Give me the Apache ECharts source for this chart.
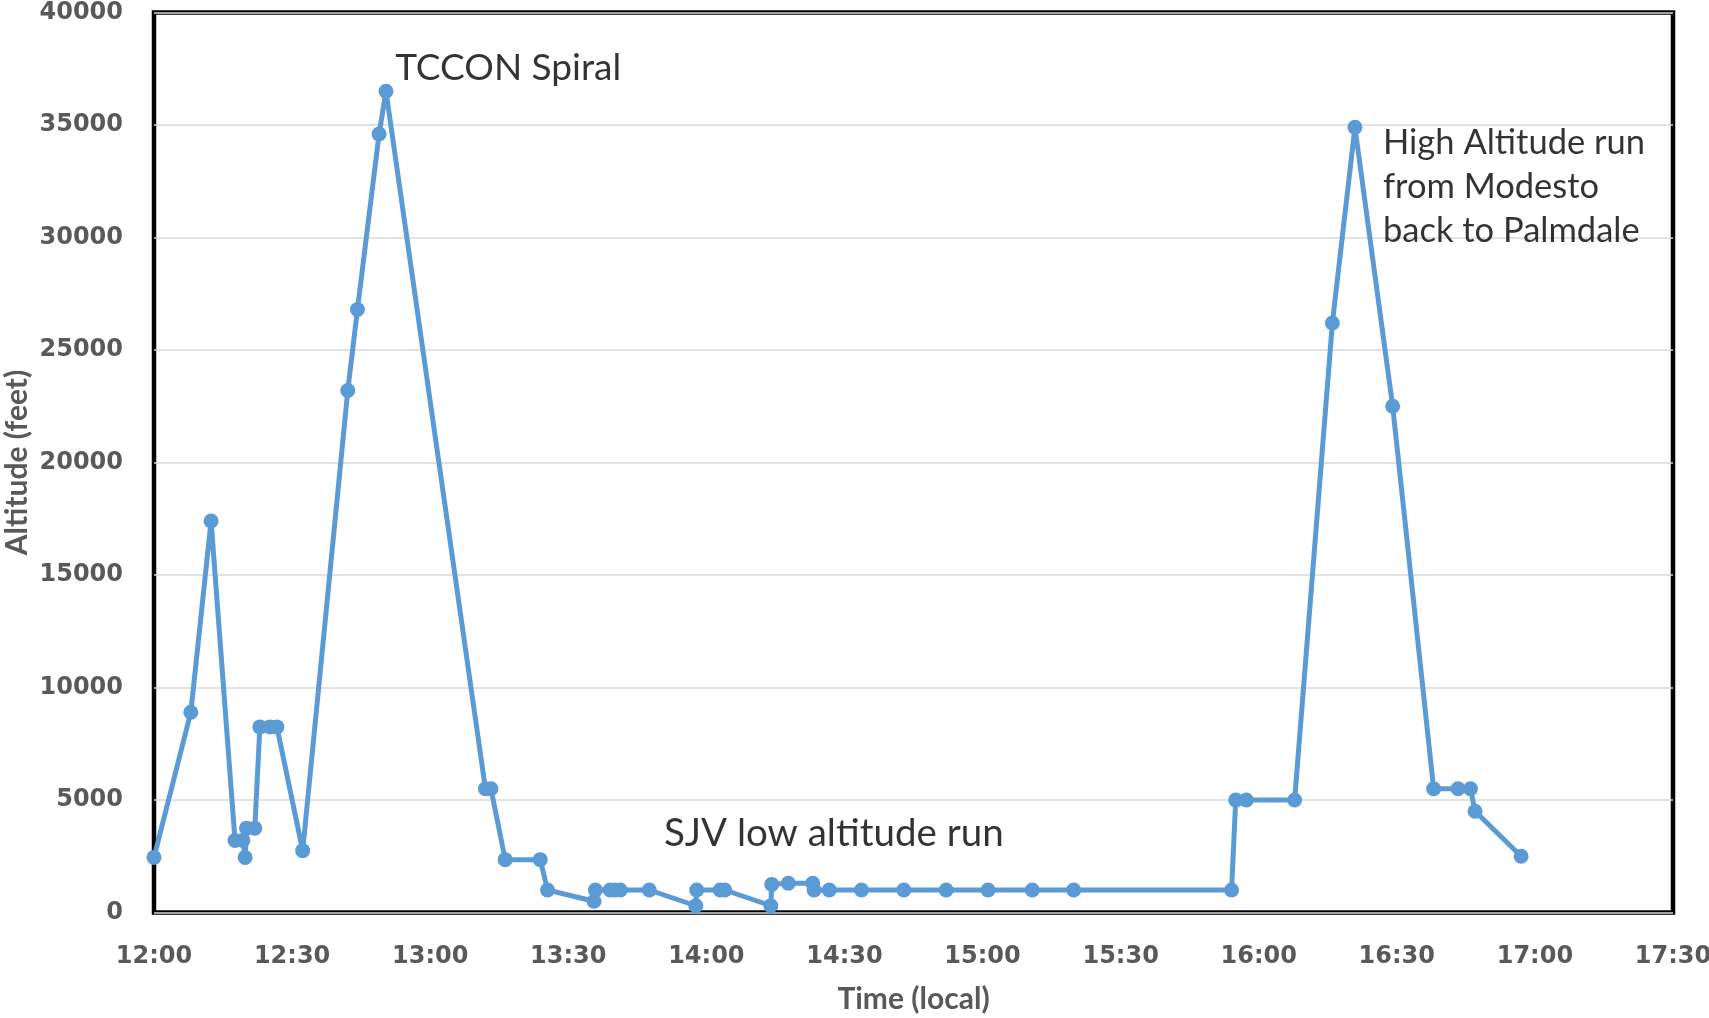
<!DOCTYPE html>
<html>
<head>
<meta charset="utf-8">
<script src="https://cdn.jsdelivr.net/npm/echarts@6/dist/echarts.min.js"></script>
<style>
  html, body { margin: 0; padding: 0; background: #fff; }
  #chart { width: 1709px; height: 1018px; }
</style>
</head>
<body>
<div id="chart"></div>
<script>
// minutes after 12:00 local
const times = [0, 8.0, 12.4, 17.6, 19.3, 19.8, 20.1, 21.9, 23.0, 25.2, 26.7, 32.3,
  42.1, 44.2, 48.9, 50.4, 72.0, 73.2, 76.3, 83.9, 85.5, 95.6, 95.9, 99.1, 100.2, 101.3,
  107.6, 117.7, 117.9, 123.0, 124.0, 134.0, 134.2, 137.8, 143.1, 143.4, 146.7, 153.7,
  162.9, 172.1, 181.2, 190.8, 199.8, 234.1, 235.0, 237.3, 247.8, 256.0, 260.9, 269.1,
  278.0, 283.3, 286.0, 287.0, 297.0];
// altitude, feet
const altitudes = [2450, 8900, 17400, 3200, 3200, 2450, 3750, 3750, 8250, 8250, 8250, 2750,
  23200, 26800, 34600, 36500, 5500, 5500, 2350, 2350, 1000, 500, 1000, 1000, 1000, 1000,
  1000, 300, 1000, 1000, 1000, 300, 1250, 1300, 1300, 1000, 1000, 1000,
  1000, 1000, 1000, 1000, 1000, 1000, 5000, 5000, 5000, 26200, 34900, 22500,
  5500, 5500, 5500, 4500, 2500];

const xTicks = { min: 0, max: 330, step: 30 };
const yTicks = { min: 0, max: 40000, step: 5000 };

// annotation anchors (left edge, vertical middle) in data units
const noteTexts = ['TCCON Spiral', 'SJV low altitude run', 'High Altitude run\nfrom Modesto\nback to Palmdale'];
const noteTimes = [52.4, 110.8, 267.0];
const noteAlts = [37550, 3500, 32250];
const noteSizes = [37, 38.5, 34.5];

const clock = (v) => {
  const h = 12 + Math.floor(v / 60);
  const m = Math.round(v % 60);
  return h + ':' + (m < 10 ? '0' : '') + m;
};

const chart = echarts.init(document.getElementById('chart'));
chart.setOption({
  animation: false,
  backgroundColor: '#fff',
  grid: {
    left: 154,
    right: 36,
    top: 12.5,
    bottom: 105.5,
    outerBoundsMode: 'none',
    containLabel: false,
    show: true,
    borderColor: '#000',
    borderWidth: 4.5,
    backgroundColor: 'transparent'
  },
  xAxis: {
    type: 'value',
    min: xTicks.min,
    max: xTicks.max,
    interval: xTicks.step,
    name: 'Time (local)',
    nameLocation: 'middle',
    nameGap: 72,
    nameMoveOverlap: false,
    nameTextStyle: { fontFamily: 'Lato', fontWeight: 'bold', fontSize: 30, color: '#595959' },
    axisLine: { show: false },
    axisTick: { show: false },
    splitLine: { show: false },
    axisLabel: {
      formatter: clock,
      margin: 32,
      fontFamily: 'DejaVu Sans',
      fontWeight: 'bold',
      fontSize: 24,
      color: '#595959'
    }
  },
  yAxis: {
    type: 'value',
    min: yTicks.min,
    max: yTicks.max,
    interval: yTicks.step,
    name: 'Altitude (feet)',
    nameLocation: 'middle',
    nameGap: 122,
    nameMoveOverlap: false,
    nameTextStyle: { fontFamily: 'Lato', fontWeight: 'bold', fontSize: 30, color: '#595959' },
    axisLine: { show: false },
    axisTick: { show: false },
    splitLine: { lineStyle: { color: '#d9d9d9', width: 1.5 } },
    axisLabel: {
      formatter: (v) => String(v),
      margin: 31,
      fontFamily: 'DejaVu Sans',
      fontWeight: 'bold',
      fontSize: 24,
      color: '#595959'
    }
  },
  series: [
    {
      type: 'line',
      data: times.map((t, i) => [t, altitudes[i]]),
      symbol: 'circle',
      symbolSize: 15,
      clip: false,
      lineStyle: { color: '#5b9bd5', width: 5 },
      itemStyle: { color: '#5b9bd5' }
    },
    {
      type: 'scatter',
      symbolSize: 0,
      silent: true,
      data: noteTexts.map((s, i) => ({
        value: [noteTimes[i], noteAlts[i]],
        name: s,
        label: { fontSize: noteSizes[i] }
      })),
      label: {
        show: true,
        position: [0, 0],
        align: 'left',
        verticalAlign: 'middle',
        formatter: (p) => p.name,
        fontFamily: 'Lato',
        lineHeight: 44,
        color: '#000'
      }
    }
  ]
});
</script>
</body>
</html>
